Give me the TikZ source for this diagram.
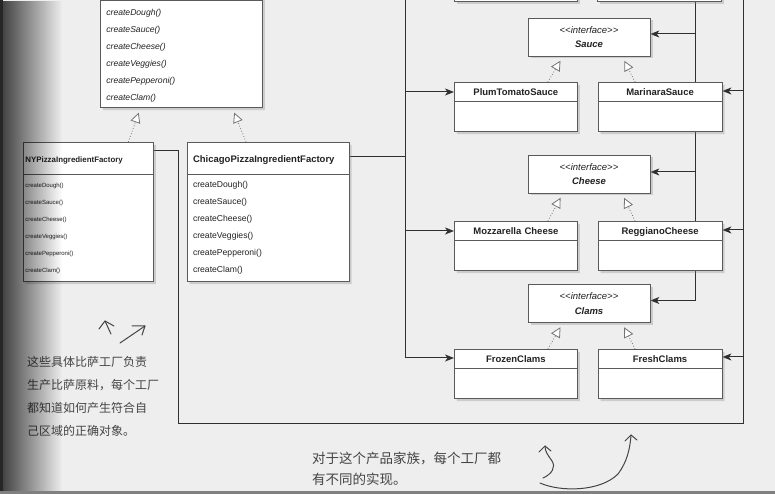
\documentclass[tikz,border=0pt]{standalone}
\usepackage{fontspec}
\setmainfont{Liberation Sans}
\newfontfamily\cjk{Noto Sans CJK SC}
\usetikzlibrary{positioning}
\usetikzlibrary{shapes.multipart}
\usetikzlibrary{arrows.meta}
\usetikzlibrary{shadows}
\usetikzlibrary{backgrounds}
\usetikzlibrary{fadings}
\definecolor{paper}{HTML}{EEEEEE}
\definecolor{frame}{HTML}{5A5A5A}
\definecolor{wire}{HTML}{303030}
\definecolor{ink}{HTML}{222222}
\definecolor{pencil}{HTML}{444444}
\newcommand\opsfont{\mdseries\fontsize{8.6}{17}\selectfont}
\tikzfading[name=binding, left color=transparent!25, right color=transparent!100]
\tikzset{
  % A UML class box: name / body
  umlclass/.style={
    draw=frame, fill=white, rectangle split, rectangle split parts=2,
    rectangle split draw splits=true, align=center, text=ink,
    font=\fontsize{9.5}{11}\selectfont\bfseries, line width=0.7pt,
    inner xsep=4pt, inner ysep=0pt, text width=#1,
    drop shadow={shadow xshift=2.5pt, shadow yshift=-2.5pt, opacity=0.3}},
  % An interface box
  iface/.style={
    draw=frame, fill=white, rectangle, align=center, text=ink,
    font=\fontsize{9.5}{14.5}\selectfont, line width=0.7pt,
    minimum width=122pt, minimum height=38pt, inner sep=0pt,
    drop shadow={shadow xshift=2.5pt, shadow yshift=-2.5pt, opacity=0.3}},
  % Boxes cut by the top of the page
  stub/.style={
    draw=frame, fill=white, line width=0.7pt, minimum height=40pt,
    inner sep=0pt, minimum width=#1,
    drop shadow={shadow xshift=2.5pt, shadow yshift=-2.5pt, opacity=0.3}},
  % Relationships
  wire/.style={draw=wire, line width=1pt},
  assoc/.style={-{Stealth[length=9pt, width=7pt, inset=2.5pt]}, draw=wire, line width=1pt},
  realize/.style={-{Triangle[open, length=10pt, width=10pt, fill=white]},
    draw=black!55, dotted, line width=0.8pt, shorten >=5pt},
  % Handwritten notes
  note/.style={font=\cjk\fontsize{12}{23}\selectfont, align=left, text=pencil, inner sep=0pt},
  scrawl/.style={draw=pencil, line width=1pt, line cap=round, line join=round},
}

\begin{document}
\begin{tikzpicture}[x=1pt, y=1pt]
\useasboundingbox (0,0) rectangle (775,494);

% abstract factory, cut by the page top
\node[umlclass=150pt, align=left, inner xsep=6pt, anchor=south west] (factory) at (100,386) {
  \rule{0pt}{40pt}
  \nodepart{two}\opsfont\itshape
    \rule{0pt}{15pt}createDough()\\
    createSauce()\\
    createCheese()\\
    createVeggies()\\
    createPepperoni()\\
    createClam()\rule[-7pt]{0pt}{7pt}\par
};

\node[umlclass=126pt, align=left, inner xsep=2pt, anchor=north west] (ny) at (23,352) {
  \centering\fontsize{7.9}{9}\selectfont\rule[-11.5pt]{0pt}{31pt}NYPizzaIngredientFactory
  \nodepart{two}\mdseries\fontsize{6}{17}\selectfont
    \rule{0pt}{13pt}createDough()\\
    createSauce()\\
    createCheese()\\
    createVeggies()\\
    createPepperoni()\\
    createClam()\rule[-9pt]{0pt}{9pt}\par
};

\node[umlclass=150pt, align=left, inner xsep=6pt, right=33pt of ny] (chicago) {
  \centering\rule[-11.5pt]{0pt}{31pt}ChicagoPizzaIngredientFactory
  \nodepart{two}\opsfont
    \rule{0pt}{13pt}createDough()\\
    createSauce()\\
    createCheese()\\
    createVeggies()\\
    createPepperoni()\\
    createClam()\rule[-9pt]{0pt}{9pt}\par
};

% dough classes, cut by the page top
\node[stub=123pt, anchor=south] (doughl) at (515.5,492) {};
\node[stub=124pt, anchor=south] (doughr) at (659,492) {};

% sauce
\node[iface] (sauce) at (589,457) {\textit{<{}<interface>{}>}\\ \textbf{\textit{Sauce}}};
\node[umlclass=115pt, anchor=north west] (plum) at (454,412) {
  \rule[-5pt]{0pt}{18pt}PlumTomatoSauce \nodepart{two}\rule{0pt}{30pt}};
\node[umlclass=116pt, right=20pt of plum] (marinara) {
  \rule[-5pt]{0pt}{18pt}MarinaraSauce \nodepart{two}\rule{0pt}{30pt}};

% cheese
\node[iface] (cheese) at (589,320) {\textit{<{}<interface>{}>}\\ \textbf{\textit{Cheese}}};
\node[umlclass=115pt, anchor=north west] (mozz) at (454,273) {
  \rule[-5pt]{0pt}{18pt}Mozzarella Cheese \nodepart{two}\rule{0pt}{30pt}};
\node[umlclass=116pt, right=20pt of mozz] (reggiano) {
  \rule[-5pt]{0pt}{18pt}ReggianoCheese \nodepart{two}\rule{0pt}{30pt}};

% clams
\node[iface] (clams) at (589,190.5) {\textit{<{}<interface>{}>}\\ \textbf{\textit{Clams}}};
\node[umlclass=115pt, anchor=north west] (frozen) at (454,145) {
  \rule[-5pt]{0pt}{18pt}FrozenClams \nodepart{two}\rule{0pt}{30pt}};
\node[umlclass=116pt, right=20pt of frozen] (fresh) {
  \rule[-5pt]{0pt}{18pt}FreshClams \nodepart{two}\rule{0pt}{30pt}};

% notes
\node[note, anchor=north west] (concretenote) at (27,138)
  {这些具体比萨工厂负责\\生产比萨原料，每个工厂\\都知道如何产生符合自\\己区域的正确对象。};
\node[note, font=\cjk\fontsize{13.5}{21}\selectfont, anchor=north west] (familynote) at (312,42)
  {对于这个产品家族，每个工厂都\\有不同的实现。};

% bus ends and rows
\coordinate (ltop) at (405,500);
\coordinate (mtop) at (695,500);
\coordinate (rtop) at (743,500);
\coordinate (nyturn) at (178,70);
\coordinate (rturn) at (743,70);
\coordinate (nyrow) at ([yshift=-9pt]ny.north east);
\coordinate (chirow) at ([yshift=-15pt]chicago.north east);
\coordinate (plumrow) at ([yshift=-10pt]plum.north west);
\coordinate (mozzrow) at ([yshift=-10pt]mozz.north west);
\coordinate (frozenrow) at ([yshift=-9pt]frozen.north west);
\coordinate (marinararow) at ([yshift=-9pt]marinara.north east);
\coordinate (reggianorow) at ([yshift=-9pt]reggiano.north east);
\coordinate (freshrow) at ([yshift=-8pt]fresh.north east);
\coordinate (saucerow) at ([yshift=3pt]sauce.east);
\coordinate (cheeserow) at ([yshift=2pt]cheese.east);
\coordinate (clamsrow) at ([yshift=3pt]clams.east);

\begin{scope}[on background layer]
  \fill[paper] (0,0) rectangle (775,494);
  % Chicago factory
  \draw[wire] (chirow) -- (chirow -| ltop);
  \draw[assoc] (ltop) |- (frozenrow);
  \draw[assoc] (plumrow -| ltop) -- (plumrow);
  \draw[assoc] (mozzrow -| ltop) -- (mozzrow);
  % NY factory
  \draw[wire] (nyrow) -| (nyturn) -- (rturn) -- (rtop);
  \draw[assoc] (marinararow -| rtop) -- (marinararow);
  \draw[assoc] (reggianorow -| rtop) -- (reggianorow);
  \draw[assoc] (freshrow -| rtop) -- (freshrow);
  % interfaces
  \draw[assoc] (mtop) |- (clamsrow);
  \draw[assoc] (saucerow -| mtop) -- (saucerow);
  \draw[assoc] (cheeserow -| mtop) -- (cheeserow);
  % realizations
  \draw[realize] ([xshift=40pt]ny.north) -- ([xshift=-41pt]factory.south);
  \draw[realize] ([xshift=-22pt]chicago.north) -- ([xshift=51pt]factory.south);
  \draw[realize] ([xshift=32pt]plum.north) -- ([xshift=-26pt]sauce.south);
  \draw[realize] ([xshift=-25pt]marinara.north) -- ([xshift=33pt]sauce.south);
  \draw[realize] ([xshift=32pt]mozz.north) -- ([xshift=-26pt]cheese.south);
  \draw[realize] ([xshift=-25pt]reggiano.north) -- ([xshift=33pt]cheese.south);
  \draw[realize] ([xshift=32pt]frozen.north) -- ([xshift=-26pt]clams.south);
  \draw[realize] ([xshift=-25pt]fresh.north) -- ([xshift=33pt]clams.south);
\end{scope}

% pencil arrows
\draw[scrawl] (111,160) -- (105,173);
\draw[scrawl] (99,165) -- (105,173) -- (114,168);
\draw[scrawl] (120,151) -- (145,168);
\draw[scrawl] (132,168) -- (145,168) -- (142,159);
\draw[scrawl] (543,16) .. controls (552,20) and (556,27) .. (552,33)
  .. controls (548,39) and (545,42) .. (545,48);
\draw[scrawl] (539,42) -- (545,48) -- (551,43);
\draw[scrawl] (540,11) .. controls (560,2) and (600,2) .. (618,20)
  .. controls (627,32) and (630,45) .. (631,59);
\draw[scrawl] (625,53) -- (631,59) -- (637,54);

% binding shadow and page edge
\fill[black, path fading=binding, fit fading=true] (0,0) rectangle (62,494);
\fill[black!85] (0,0) rectangle (3,494);
\fill[black!50] (0,0) rectangle (775,3);
\end{tikzpicture}
\end{document}
